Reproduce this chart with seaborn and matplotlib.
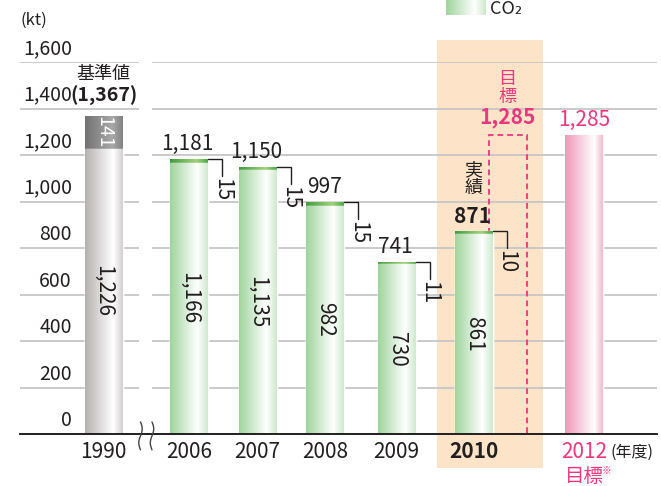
import numpy as np
import pandas as pd
import matplotlib
matplotlib.use("Agg")
import matplotlib.pyplot as plt
import seaborn as sns
from matplotlib.colors import LinearSegmentedColormap
from matplotlib.patches import Rectangle
from matplotlib.transforms import blended_transform_factory

# ---- data ----
years = ["1990", "2006", "2007", "2008", "2009", "2010", "2012"]
base = [1226, 1166, 1135, 982, 730, 861, 1285]
cap = [141, 15, 15, 15, 11, 10, 0]
total = [1367, 1181, 1150, 997, 741, 871, 1285]
target_2010 = 1285
target_2012 = 1285
yticks = [0, 200, 400, 600, 800, 1000, 1200, 1400, 1600]

# ---- layout (slot positions of each category along x) ----
slot = [0.0, 1.230, 2.216, 3.194, 4.216, 5.324, 6.914]
PX = 69.5                 # px per x unit
PY = 1600 / 372           # data units per px on y
BAR_W = 38 / PX

INK = "#231f20"
PINK = "#e8387e"

sns.set_theme(style="white")
plt.rcParams['font.family'] = ['Noto Sans CJK JP', 'DejaVu Sans']

fig = plt.figure(figsize=(6.61, 4.86), dpi=100)
ax = fig.add_axes([20 / 661, 52 / 486, 637 / 661, 372 / 486])

df = pd.DataFrame({"slot": slot, "total": total, "base": base})
native = float(np.min(np.diff(sorted(slot))))
w = BAR_W / native

sns.barplot(data=df, x="slot", y="total", native_scale=True, width=w,
            color="#4aa84a", saturation=1, errorbar=None, ax=ax, zorder=2)
cap_patches = list(ax.patches)
sns.barplot(data=df, x="slot", y="base", native_scale=True, width=w,
            color="#a3d6a0", saturation=1, errorbar=None, ax=ax, zorder=3)
base_patches = list(ax.patches)[len(cap_patches):]


def fill_grad(patch, stops, z):
    bb = patch.get_bbox()
    cmap = LinearSegmentedColormap.from_list("g", stops)
    grad = np.linspace(0, 1, 256)[None, :]
    im = ax.imshow(grad, cmap=cmap, extent=(bb.x0, bb.x1, bb.y0, bb.y1),
                   aspect='auto', origin='lower', zorder=z,
                   interpolation='bilinear')
    im.set_clip_path(patch)


green_body = [(0, "#9fd49c"), (0.72, "#ffffff"), (1, "#cdeacb")]
green_cap = [(0, "#3f9c3f"), (0.7, "#a3d37c"), (1, "#4aa84a")]
gray_body = [(0, "#b6b1b1"), (0.75, "#ffffff"), (1, "#d3cece")]
gray_cap = [(0, "#727272"), (0.72, "#a8a8a8"), (1, "#828282")]
pink_body = [(0, "#f097b8"), (0.78, "#ffffff"), (1, "#f4b6cc")]

for i, (pc, pb) in enumerate(zip(cap_patches, base_patches)):
    if years[i] == "1990":
        fill_grad(pc, gray_cap, 2.1)
        fill_grad(pb, gray_body, 3.1)
    elif years[i] == "2012":
        fill_grad(pc, pink_body, 2.1)
        fill_grad(pb, pink_body, 3.1)
    else:
        fill_grad(pc, green_cap, 2.1)
        fill_grad(pb, green_body, 3.1)

# target dashed box for 2010
tx = slot[5] + 34 / PX
ax.bar([tx], [target_2010], width=BAR_W, fill=False, edgecolor=PINK,
       linestyle=(0, (3.2, 2.2)), linewidth=1.3, zorder=1.5)

# axes cosmetics
ax.set_xlim((20 - 103.5) / PX, (657 - 103.5) / PX)
ax.set_ylim(0, 1600)
ax.set_yticks(yticks)
ax.grid(axis='y', color='#c6c6c6', linewidth=1.3)
ax.grid(axis='x', visible=False)
ax.set_axisbelow(True)
for s in ["left", "right", "top"]:
    ax.spines[s].set_visible(False)
ax.spines["bottom"].set_color(INK)
ax.spines["bottom"].set_linewidth(1.4)
ax.spines["bottom"].set_zorder(5)
ax.tick_params(axis='y', length=0, labelleft=False)
ax.set_xlabel("")
ax.set_ylabel("")

# highlight band for 2010
ax.add_patch(Rectangle(((437 - 103.5) / PX, -146), (543 - 437) / PX, 1841,
                       facecolor="#fde4c9", edgecolor="none", zorder=0.1,
                       clip_on=False))
# gap in gridlines at axis break
ax.add_patch(Rectangle(((139 - 103.5) / PX, 5), (13) / PX, 1700,
                       facecolor="white", edgecolor="none", zorder=0.6,
                       clip_on=False))
# break marks
t = np.linspace(0, 1, 60)
for cx in (140.5, 152.0):
    xs = (cx - 103.5) / PX + (1.7 / PX) * np.sin(2 * np.pi * t)
    ys = 52 - 120 * t
    ax.plot(xs, ys, color="#444444", lw=1.0, clip_on=False, zorder=6)

# y tick labels (above gridlines)
ytr = blended_transform_factory(ax.transAxes, ax.transData)
for v in yticks:
    ax.annotate(f"{v:,}", xy=((72 - 20) / 637, v), xycoords=ytr,
                xytext=(0, 2), textcoords="offset points",
                ha="right", va="bottom", fontsize=14, color=INK)
fig.text(20 / 661, 1 - 20 / 486, "(kt)", ha="left", va="center",
         fontsize=12, color=INK)

# x tick labels
ax.set_xticks(slot)
ax.set_xticklabels(years, fontsize=15, color=INK)
ax.tick_params(axis='x', length=0, pad=5)
for lab in ax.get_xticklabels():
    if lab.get_text() == "2010":
        lab.set_fontweight("bold")
    if lab.get_text() == "2012":
        lab.set_color(PINK)
ax.annotate("(年度)", xy=(slot[6], 0), xycoords="data",
            xytext=(19, -7), textcoords="offset points",
            ha="left", va="top", fontsize=11.5, color=INK)
ax.annotate("目標", xy=(slot[6], 0), xycoords="data",
            xytext=(-14, -23), textcoords="offset points",
            ha="left", va="top", fontsize=14, color=PINK)
ax.annotate("※", xy=(slot[6], 0), xycoords="data",
            xytext=(13, -23), textcoords="offset points",
            ha="left", va="top", fontsize=7, color=PINK)

# value labels
for i, yr in enumerate(years):
    x = slot[i]
    pb = base_patches[i]
    xr = pb.get_bbox().x1
    if yr == "1990":
        ax.annotate(f"({total[i]:,})", xy=(x, total[i]), xytext=(0, 7),
                    textcoords="offset points", ha="center", va="bottom",
                    fontsize=14, fontweight="semibold", color=INK, zorder=7)
        ax.annotate("基準値", xy=(x, total[i]), xytext=(0, 24),
                    textcoords="offset points", ha="center", va="bottom",
                    fontsize=13, color=INK, zorder=7)
        ax.text(x, base[i] + cap[i] / 2, f"{cap[i]:,}", rotation=270,
                ha="center", va="center", fontsize=14, color="white",
                zorder=7)
        ax.text(x, base[i] / 2, f"{base[i]:,}", rotation=270,
                ha="center", va="center", fontsize=15, color=INK, zorder=7)
    elif yr == "2012":
        ax.annotate(f"{target_2012:,}", xy=(x, total[i]), xytext=(0, 3),
                    textcoords="offset points", ha="center", va="bottom",
                    fontsize=15, color=PINK, zorder=7)
    else:
        bold = "bold" if yr == "2010" else "normal"
        ax.annotate(f"{total[i]:,}", xy=(x, total[i]), xytext=(-1, 3),
                    textcoords="offset points", ha="center", va="bottom",
                    fontsize=15, fontweight=bold, color=INK, zorder=7)
        ax.text(x, base[i] / 2, f"{base[i]:,}", rotation=270,
                ha="center", va="center", fontsize=15, color=INK, zorder=7)
        # bracket to cap label
        xe = xr + 14 / PX
        ax.plot([xr, xe, xe], [total[i], total[i], total[i] - 17 * PY],
                color=INK, lw=1.0, zorder=7, solid_joinstyle="miter")
        ax.text(xe, total[i] - 19 * PY, f"{cap[i]}", rotation=270,
                ha="center", va="top", fontsize=15, color=INK, zorder=7)
        if yr == "2010":
            ax.annotate("実\n績", xy=(x, total[i]), xytext=(0, 25),
                        textcoords="offset points", ha="center", va="bottom",
                        fontsize=13, color=INK, linespacing=1.0, zorder=7)

# 2010 target labels
ax.annotate(f"{target_2010:,}", xy=(tx, target_2010), xytext=(0, 5),
            textcoords="offset points", ha="center", va="bottom",
            fontsize=15, fontweight="bold", color=PINK, zorder=7)
ax.annotate("目\n標", xy=(tx, target_2010), xytext=(0, 21),
            textcoords="offset points", ha="center", va="bottom",
            fontsize=13, color=PINK, linespacing=1.0, zorder=7)

# legend
lax = fig.add_axes([446 / 661, 1 - 15 / 486, 39 / 661, 15 / 486])
lax.imshow(np.linspace(0, 1, 256)[None, :],
           cmap=LinearSegmentedColormap.from_list("l", green_body),
           aspect="auto", extent=(0, 1, 0, 1))
lax.axis("off")
fig.text(490 / 661, 1 - 9 / 486, "CO₂", ha="left", va="center",
         fontsize=13, color=INK)

fig.savefig("out.png", dpi=100)
